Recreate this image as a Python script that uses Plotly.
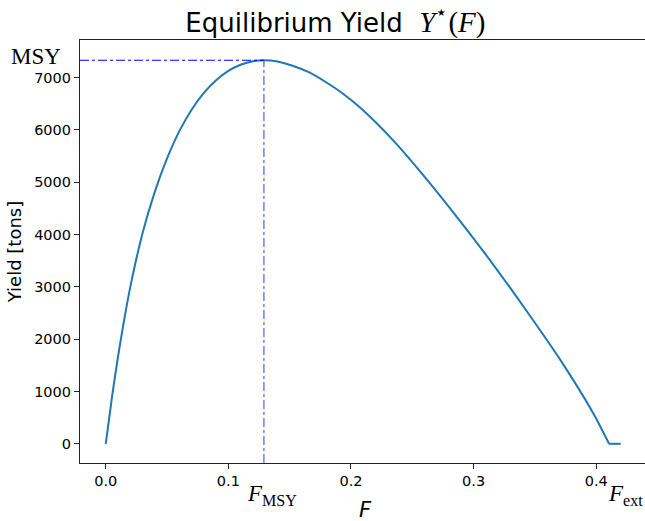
import plotly.graph_objects as go

# Equilibrium yield curve
F_vals = [0.0, 0.005, 0.01, 0.015, 0.02, 0.03, 0.04, 0.05, 0.06, 0.07,
          0.08, 0.09, 0.10, 0.11, 0.12, 0.129, 0.14, 0.153, 0.166, 0.180,
          0.193, 0.2074, 0.2346, 0.2618, 0.289, 0.316, 0.3434, 0.3706, 0.3977, 0.4105]
Y_vals = [0, 878, 1665, 2366, 2995, 4025, 4815, 5455, 5975, 6385,
          6705, 6950, 7128, 7245, 7312, 7330, 7307, 7220, 7097, 6905,
          6700, 6426, 5795, 5054, 4256, 3426, 2533, 1608, 580, 0]
F_tail = [0.4105, 0.42]
Y_tail = [0, 0]

F_MSY = 0.129
MSY = 7330
F_ext = 0.4105

x_ticks = [0.0, 0.1, 0.2, 0.3, 0.4]
x_ticklabels = ["0.0", "0.1", "0.2", "0.3", "0.4"]
y_ticks = [0, 1000, 2000, 3000, 4000, 5000, 6000, 7000]

x_range = [-0.021, 0.4398]
y_range = [-367, 7717]

blue = "#1f77b4"
sans = "DejaVu Sans"
serif = "Liberation Serif"

fig = go.Figure()
fig.add_trace(go.Scatter(x=F_vals, y=Y_vals, mode="lines",
                         line=dict(color=blue, width=2, shape="spline", smoothing=0.8),
                         showlegend=False, hoverinfo="skip"))
fig.add_trace(go.Scatter(x=F_tail, y=Y_tail, mode="lines",
                         line=dict(color=blue, width=2),
                         showlegend=False, hoverinfo="skip"))
# MSY reference lines
fig.add_trace(go.Scatter(x=[x_range[0], F_MSY], y=[MSY, MSY], mode="lines",
                         line=dict(color="blue", width=1.2, dash="dashdot"),
                         showlegend=False, hoverinfo="skip"))
fig.add_trace(go.Scatter(x=[F_MSY, F_MSY], y=[y_range[0], MSY], mode="lines",
                         line=dict(color="rgba(60,60,255,0.85)", width=1.2, dash="dashdot"),
                         showlegend=False, hoverinfo="skip"))

axis_common = dict(showgrid=False, zeroline=False, showline=True, linecolor="#222",
                   linewidth=1.1, ticks="outside", ticklen=5, tickwidth=1.1,
                   tickcolor="#222", tickfont=dict(family=sans, size=14.5, color="black"))

fig.update_xaxes(range=x_range, tickvals=x_ticks, ticktext=x_ticklabels,
                 mirror=True, **axis_common)
fig.update_yaxes(range=y_range, tickvals=y_ticks, ticktext=[str(v) for v in y_ticks],
                 title=dict(text="Yield [tons]", font=dict(family=sans, size=18, color="black"),
                            standoff=7),
                 **axis_common)

fig.update_layout(
    width=645, height=521,
    margin=dict(l=80, r=0, t=40, b=58),
    plot_bgcolor="white", paper_bgcolor="white",
    title=dict(
        text=("Equilibrium Yield  <span style=\"font-family:'Liberation Serif';font-size:29px\">"
              "<i>Y</i><sup>⋆</sup>(<i>F</i>)</span>"),
        font=dict(family=sans, size=26, color="black"),
        x=0.52, xanchor="center", y=0.957, yanchor="middle"),
)

annotations = [
    dict(text="MSY", xref="paper", x=0, xanchor="right", xshift=-17,
         yref="y", y=MSY, yanchor="middle", yshift=4, showarrow=False,
         font=dict(family=serif, size=23, color="black")),
    dict(text="<i>F</i><sub>MSY</sub>", xref="x", x=F_MSY, xanchor="left", xshift=-19,
         yref="paper", y=0, yanchor="top", yshift=-16, showarrow=False,
         font=dict(family=serif, size=23, color="black")),
    dict(text="<i>F</i><sub>ext</sub>", xref="x", x=F_ext, xanchor="left", xshift=-3,
         yref="paper", y=0, yanchor="top", yshift=-16, showarrow=False,
         font=dict(family=serif, size=23, color="black")),
    dict(text="<i>F</i>", xref="paper", x=0.505, xanchor="center",
         yref="paper", y=0, yanchor="top", yshift=-33, showarrow=False,
         font=dict(family=sans, size=21, color="black")),
]
fig.update_layout(annotations=annotations)

fig.write_html("out.html", config={"displayModeBar": False},
               post_script="document.body.style.margin='0px';document.body.style.overflow='hidden';")
